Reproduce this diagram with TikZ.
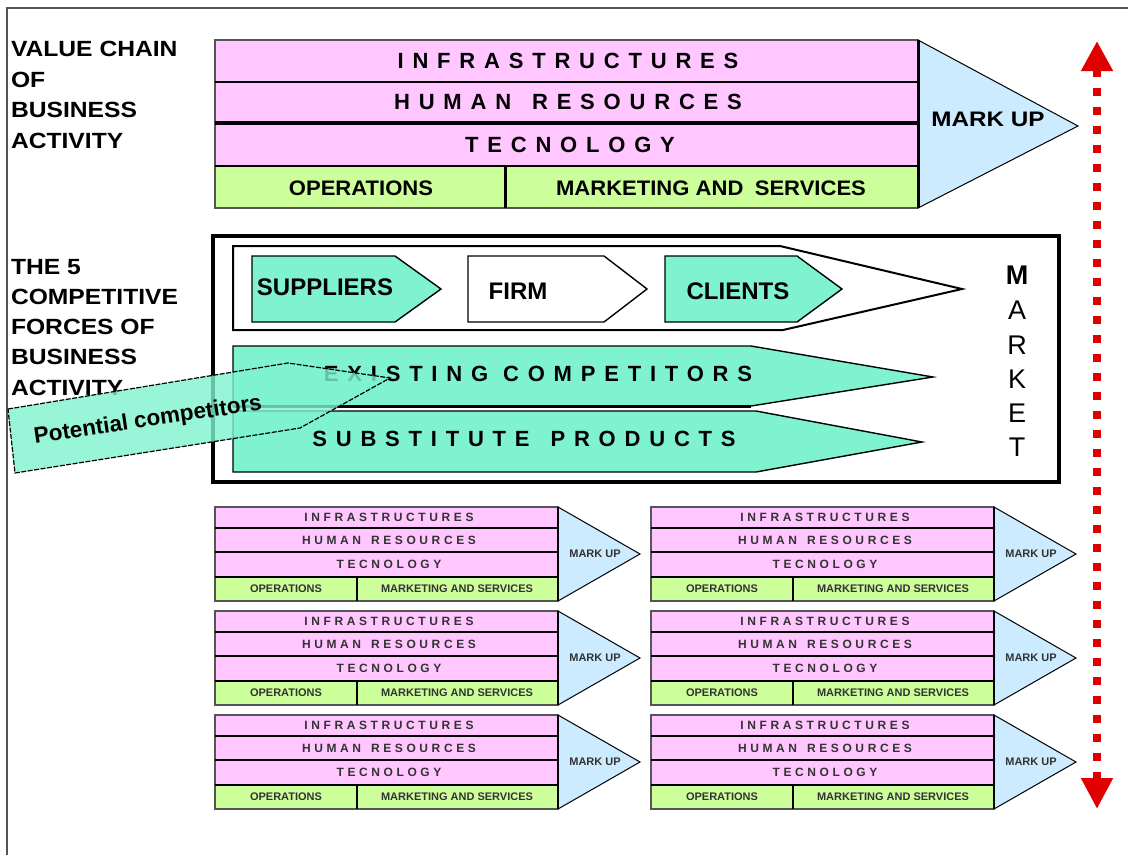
\documentclass[tikz,border=0pt]{standalone}
\usepackage{fontspec}
\setmainfont{Liberation Sans}
\newfontfamily\spc[LetterSpace=40]{Liberation Sans}
\newfontfamily\spcs[LetterSpace=30]{Liberation Sans}
\usetikzlibrary{arrows.meta}
\definecolor{vpink}{HTML}{FFC6FF}
\definecolor{vgreen}{HTML}{CCFF99}
\definecolor{vblue}{HTML}{CCEBFF}
\definecolor{vaqua}{HTML}{7FF3CF}
\definecolor{vred}{HTML}{E00000}
\definecolor{smtext}{HTML}{333333}
\definecolor{frame}{HTML}{555555}
\tikzset{
  lbl/.style={anchor=west, xscale=1.12, font=\bfseries\fontsize{22}{26}\selectfont},
  bigsp/.style={font=\spc\bfseries\fontsize{22}{26}\selectfont},
  chainlbl/.style={xscale=1.05, font=\bfseries\fontsize{21}{25}\selectfont},
  forcelbl/.style={font=\bfseries\fontsize{24}{28}\selectfont},
  smsp/.style={font=\spcs\bfseries\fontsize{12}{14}\selectfont, text=smtext},
  smlbl/.style={font=\bfseries\fontsize{11}{13}\selectfont, text=smtext},
  sep/.style={line width=2.2pt, draw=black},
  border/.style={line width=1.3pt, draw=frame},
  markuptri/.style={fill=vblue, draw=black, line width=1pt},
  force/.style={fill=vaqua, draw=black, line width=1.4pt},
  mktletter/.style={font=\fontsize{27}{30}\selectfont},
}
\newcommand\minichain[3]{%
  \fill[vpink] (#1,#2) rectangle ({#1+343},{#2+70});
  \fill[vgreen] (#1,{#2+70}) rectangle ({#1+343},{#2+94});
  \filldraw[markuptri] ({#1+343},#2) -- ({#1+425},{#2+47}) -- ({#1+343},{#2+94}) -- cycle;
  \draw[border] (#1,#2) rectangle ({#1+343},{#2+94});
  \draw[sep] (#1,{#2+21}) -- ({#1+343},{#2+21});
  \draw[sep] (#1,{#2+45}) -- ({#1+343},{#2+45});
  \draw[sep] (#1,{#2+70}) -- ({#1+343},{#2+70});
  \draw[sep] ({#1+142},{#2+70}) -- ({#1+142},{#2+94});
  \draw[sep] ({#1+343},#2) -- ({#1+343},{#2+94});
  \node[smsp] (#3infra) at ({#1+174},{#2+10.5}) {INFRASTRUCTURES};
  \node[smsp] (#3hr) at ({#1+174},{#2+33}) {HUMAN\hspace{3pt} RESOURCES};
  \node[smsp] (#3tec) at ({#1+174},{#2+57.5}) {TECNOLOGY};
  \node[smlbl] (#3ops) at ({#1+71},{#2+82}) {OPERATIONS};
  \node[smlbl] (#3mkt) at ({#1+242},{#2+82}) {MARKETING AND SERVICES};
  \node[smlbl] (#3mu) at ({#1+380},{#2+47}) {MARK UP};
}
\begin{document}
\begin{tikzpicture}[x=1pt,y=-1pt, every node/.style={inner sep=0pt, outer sep=0pt}]
\useasboundingbox (0,0) rectangle (1128,855);
\fill[white] (0,0) rectangle (1128,855);
% frame
\draw[line width=1.5pt, draw=frame] (7,855) -- (7,8) -- (1128,8);

% left labels
\node[lbl] (l1) at (11,49) {VALUE CHAIN};
\node[lbl] (l2) at (11,80) {OF};
\node[lbl] (l3) at (11,110) {BUSINESS};
\node[lbl] (l4) at (11,141) {ACTIVITY};
\node[lbl] (f1) at (11,267) {THE 5};
\node[lbl] (f2) at (11,297) {COMPETITIVE};
\node[lbl] (f3) at (11,327) {FORCES OF};
\node[lbl] (f4) at (11,357) {BUSINESS};
\node[lbl] (f5) at (11,388) {ACTIVITY};

% top value chain
\fill[vpink] (215,40) rectangle (918,166);
\fill[vgreen] (215,166) rectangle (918,208);
\filldraw[markuptri] (918,40) -- (1078,126) -- (918,208) -- cycle;
\draw[border] (215,40) rectangle (918,208);
\draw[sep] (215,82) -- (918,82);
\draw[sep, line width=3.2pt] (215,123) -- (918,123);
\draw[sep] (215,166) -- (918,166);
\draw[sep, line width=3pt] (505,166) -- (505,208);
\draw[sep, line width=3pt] (918,40) -- (918,208);
\node[bigsp] (infra) at (568,61) {INFRASTRUCTURES};
\node[bigsp] (hr) at (568,102) {HUMAN\hspace{6pt} RESOURCES};
\node[bigsp] (tec) at (570,144.5) {TECNOLOGY};
\node[chainlbl] (ops) at (361,188) {OPERATIONS};
\node[chainlbl] (mkt) at (711,188) {MARKETING AND\hspace{5pt} SERVICES};
\node[chainlbl, xscale=1.1] (mu) at (988,119) {MARK UP};

% middle box
\draw[line width=4.5pt] (213,236) rectangle (1059,482);
\draw[line width=2pt, fill=white] (233,246) -- (780,246) -- (962,289) -- (783,330) -- (233,330) -- cycle;
\filldraw[force] (252,256) -- (395,256) -- (441,289) -- (395,322) -- (252,322) -- cycle;
\filldraw[force, fill=white] (468,256) -- (604,256) -- (647,289) -- (604,322) -- (468,322) -- cycle;
\filldraw[force] (665,256) -- (797,256) -- (842,289) -- (797,322) -- (665,322) -- cycle;
\node[forcelbl] (sup) at (325,287) {SUPPLIERS};
\node[forcelbl] (firm) at (518,291) {FIRM};
\node[forcelbl] (cli) at (738,291) {CLIENTS};

\filldraw[force] (233,346) -- (751,346) -- (933,377) -- (751,406) -- (233,406) -- cycle;
\draw[line width=3pt] (233,406) -- (751,406);
\filldraw[force] (233,411) -- (756,411) -- (922,442) -- (756,472) -- (233,472) -- cycle;
\node[bigsp] (exist) at (538,374) {EXISTING COMPETITORS};
\node[bigsp] (subst) at (524,439) {SUBSTITUTE\hspace{6pt} PRODUCTS};

\node[mktletter, font=\bfseries\fontsize{27}{30}\selectfont] (mM) at (1017,275) {M};
\node[mktletter] (mA) at (1017,310) {A};
\node[mktletter] (mR) at (1017,345) {R};
\node[mktletter] (mK) at (1017,379) {K};
\node[mktletter] (mE) at (1017,413) {E};
\node[mktletter] (mT) at (1017,447) {T};

% potential competitors
\filldraw[fill=vaqua, fill opacity=0.8, draw=black, line width=1.2pt, dash pattern=on 5pt off 1.5pt]
  (8,409) -- (288,363) -- (390,378) -- (300,428) -- (15,473) -- cycle;
\node[rotate=8.5, font=\bfseries\fontsize{22.5}{26}\selectfont] (pot) at (148,421) {Potential competitors};

% small value chains
\minichain{215}{507}{a}
\minichain{651}{507}{b}
\minichain{215}{611}{c}
\minichain{651}{611}{d}
\minichain{215}{715}{e}
\minichain{651}{715}{f}

% red double arrow
\coordinate (rtop) at (1097,41);
\coordinate (rbot) at (1097,809);
\draw[vred, line width=8pt, dash pattern=on 8pt off 11pt,
  {Triangle[width=30pt,length=30pt]}-{Triangle[width=30pt,length=31pt]}] (rtop) -- (rbot);
\end{tikzpicture}
\end{document}
